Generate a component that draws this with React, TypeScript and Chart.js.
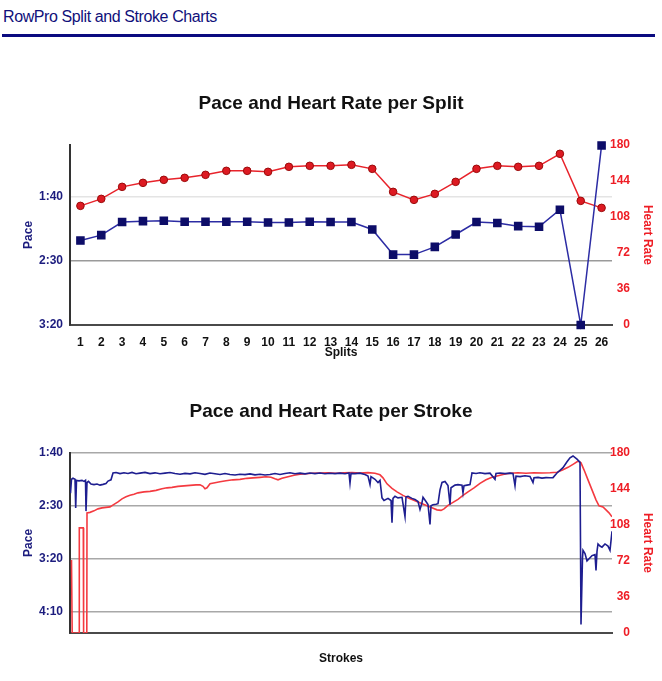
import React, { useEffect, useRef } from 'react';
import { Chart, registerables } from 'chart.js';

Chart.register(...registerables);

// ---------- Data: per split ----------
const splitLabels = ['1','2','3','4','5','6','7','8','9','10','11','12','13','14','15','16','17','18','19','20','21','22','23','24','25','26'];
// pace in seconds per 500m
const splitPace = [134.4, 130.2, 120, 119.3, 119, 119.8, 119.8, 119.8, 119.8, 120.3, 120.3, 119.8, 120, 120, 125.8, 145.3, 145.3, 139.3, 129.7, 120, 120.8, 123.2, 123.7, 110.4, 200, 60.5];
const splitHR = [119, 126, 138, 142, 145, 147, 150, 154, 154, 153, 158, 159, 159, 160, 156, 133, 125, 131, 143, 156, 159, 158, 159, 171, 124, 117];

// ---------- Data: per stroke ----------
const strokeIdxPace = [0.5, 1.5, 3, 5, 5.7, 6.5, 9, 12, 14, 15.5, 16, 17, 18.5, 21, 24, 27, 30, 33, 36, 38, 41, 43, 46, 50, 54, 58, 62, 66, 70, 75, 80, 85, 90, 95, 100, 105, 110, 115, 120, 125, 130, 135, 140, 145, 150, 155, 160, 165, 170, 175, 180, 185, 190, 195, 200, 205, 210, 215, 220, 225, 230, 235, 240, 245, 250, 255, 260, 265, 270, 275, 279, 280, 281, 285, 290, 295, 298, 300, 301, 305, 308, 310, 312, 314, 318, 321, 322, 323, 325, 328, 332, 335, 336, 338, 342, 345, 348, 350, 352, 353, 356, 358, 360, 361, 363, 366, 368, 370, 372, 375, 378, 380, 381, 385, 388, 392, 393, 394, 397, 400, 402, 406, 410, 415, 420, 425, 426, 430, 435, 440, 443, 445, 446, 450, 455, 460, 463, 464, 468, 472, 476, 480, 483, 487, 490, 493, 497, 500, 503, 507, 510, 511, 512.5, 513, 515, 517, 520, 522, 525, 526, 527, 528, 530, 532, 535, 538, 540, 542];
const strokePace = [138, 125, 124, 125, 152, 126, 126.5, 126, 127, 126, 155, 128, 127, 129.5, 130, 129.5, 130.5, 129.8, 129, 126.7, 125.5, 119, 118.6, 119.6, 118.8, 119.5, 118.5, 119.8, 119.2, 118.5, 119.6, 118.9, 119.8, 119.2, 118.6, 119.5, 120.2, 119.4, 119.9, 118.8, 119.6, 120.3, 119.1, 119.8, 120.5, 119.6, 120.4, 121, 120.2, 120.6, 119.9, 120.8, 120.3, 121, 120.5, 119.5, 120.4, 119.6, 118.8, 119.7, 119.2, 119.9, 119, 119.6, 119.1, 119.8, 119.3, 119.6, 119.2, 119.7, 119.1, 128.5, 119.4, 119.6, 119.2, 120.5, 122, 130, 122.5, 125, 128, 126, 142.5, 145, 143, 145, 166, 143, 141, 142.5, 142, 160, 141.5, 141, 143, 144, 146, 153.5, 147, 142, 146, 148.8, 167.6, 150, 149, 148.5, 148, 135, 128, 127, 131, 149, 133, 130.5, 130, 130.5, 137.7, 131, 130.5, 130, 119, 119.5, 118.8, 119.6, 119.2, 125, 119.5, 119, 119.6, 119.2, 119.5, 131, 122, 122.5, 121.6, 122.3, 128, 123.6, 123.2, 123.9, 123.4, 123.6, 123.4, 119, 116.5, 114, 108.5, 104.7, 103, 106, 109, 262, 199, 192, 195, 202, 199, 197, 196, 211, 193, 186, 188, 189, 186, 188, 192, 174];

const strokeIdxHR = [1.5, 2.2, 9, 9.3, 13.3, 13.6, 16.8, 17, 20, 24, 28, 32, 36, 40, 44, 48, 52, 56, 60, 64, 68, 74, 80, 86, 92, 97, 102, 108, 114, 120, 126, 130, 133, 135, 137, 140, 145, 150, 156, 163, 170, 177, 183, 190, 196, 201, 205, 208, 212, 218, 224, 230, 236, 242, 250, 258, 266, 274, 282, 290, 298, 305, 310, 313, 317, 322, 327, 333, 339, 345, 351, 357, 362, 367, 371, 374, 378, 383, 388, 393, 398, 404, 410, 416, 422, 428, 434, 440, 448, 456, 464, 472, 480, 487, 493, 498, 503, 507, 509, 511, 514, 518, 522, 526, 529, 533, 536, 539, 542];
const strokeHR = [73, 0, 0, 105, 105, 0, 0, 120, 120.5, 122, 124, 125, 125.5, 126, 128.5, 131, 134, 136, 137.5, 138.5, 140, 141, 141.5, 142.5, 144, 145, 145.5, 146.5, 147, 147.5, 148, 148, 146.5, 144, 145, 149, 150, 151, 152, 153, 153.5, 154.5, 155, 155.5, 156, 155.5, 154, 153, 154.5, 156, 157.5, 158.5, 159, 159.5, 159.8, 160, 159.6, 160, 160.2, 159.8, 160.2, 159.5, 158, 155, 149, 144.5, 141, 137.5, 134.5, 132, 129.5, 127, 125, 123, 122.5, 124, 127.5, 130.5, 133.5, 137.5, 141, 145, 149.5, 153, 155.5, 157, 158.5, 159.5, 160, 159.6, 160, 159.8, 160, 160.5, 163, 165.5, 168.5, 171, 171.5, 170, 163, 153, 143, 133, 127, 126, 123, 120, 116];

// ---------- Axis ticks ----------
const splitPaceTicks = [100, 150, 200];
const strokePaceTicks = [100, 150, 200, 250];
const hrTicksStep = 36;

const FONT = '"Liberation Sans", Arial, Helvetica, sans-serif';
const NAVY = '#1c1c7e';
const RED = '#ee1d25';
const tickFont = { family: FONT, size: 12, weight: 'bold' as const };

function fmtPace(v: any) {
  const n = Number(v);
  const m = Math.floor(n / 60);
  const s = Math.round(n - m * 60);
  return m + ':' + String(s).padStart(2, '0');
}

function hrAxis(): any {
  return {
    type: 'linear',
    position: 'right',
    min: 0,
    max: 180,
    ticks: { stepSize: hrTicksStep, color: RED, font: tickFont, padding: 18, mirror: true, crossAlign: 'near' },
    grid: { display: false, drawTicks: false },
    border: { display: false },
    title: { display: true, text: 'Heart Rate', color: RED, font: tickFont, padding: { top: 7.5, bottom: 0 } },
    afterFit: (s: any) => { s.width = 50; },
  };
}

function makeSplitConfig(): any {
  return {
    type: 'line',
    data: {
      labels: splitLabels,
      datasets: [
        {
          label: 'Pace',
          data: splitPace,
          yAxisID: 'yPace',
          borderColor: '#2c2ca4',
          backgroundColor: '#0d0d68',
          pointBackgroundColor: '#0d0d68',
          pointBorderColor: '#0d0d68',
          pointStyle: 'rect',
          pointRadius: 5,
          borderWidth: 1.5,
          tension: 0,
          clip: false,
        },
        {
          label: 'Heart Rate',
          data: splitHR,
          yAxisID: 'yHR',
          borderColor: '#e8232b',
          backgroundColor: '#dd1a22',
          pointBackgroundColor: '#dd1a22',
          pointBorderColor: '#9a0a0a',
          pointBorderWidth: 1,
          pointStyle: 'circle',
          pointRadius: 3.8,
          borderWidth: 1.5,
          tension: 0,
          clip: false,
        },
      ],
    },
    options: {
      responsive: false,
      animation: false,
      events: [],
      layout: { padding: 0 },
      plugins: {
        legend: { display: false },
        tooltip: { enabled: false },
        title: {
          display: true,
          text: 'Pace and Heart Rate per Split',
          color: '#111',
          font: { family: FONT, size: 19, weight: 'bold' },
          padding: { top: 12, bottom: 30 },
        },
      },
      scales: {
        x: {
          type: 'category',
          offset: true,
          grid: { display: false, drawTicks: false },
          border: { display: true, color: '#4a4a4a', width: 2 },
          ticks: { color: '#111', font: tickFont, padding: 10, maxRotation: 0, autoSkip: false },
          title: { display: true, text: 'Splits', color: '#111', font: tickFont, padding: { top: 0, bottom: 20 } },
          afterFit: (s: any) => { s.height = 55; },
        },
        yPace: {
          type: 'linear',
          position: 'left',
          reverse: true,
          min: 60,
          max: 200,
          afterBuildTicks: (s: any) => { s.ticks = splitPaceTicks.map((v) => ({ value: v })); },
          ticks: { callback: fmtPace, color: NAVY, font: tickFont, padding: 7 },
          grid: {
            drawTicks: false,
            color: (ctx: any) => {
              const v = ctx.tick && ctx.tick.value;
              if (v === 100) return '#e4e4e4';
              if (v === 150) return '#9a9a9a';
              return 'rgba(0,0,0,0)';
            },
            lineWidth: 1.5,
          },
          border: { display: true, color: '#333', width: 2 },
          title: { display: true, text: 'Pace', color: NAVY, font: tickFont, padding: { top: 21, bottom: 0 } },
          afterFit: (s: any) => { s.width = 70; },
        },
        yHR: hrAxis(),
      },
    },
  };
}

function makeStrokeConfig(): any {
  const paceData = strokeIdxPace.map((x, i) => ({ x, y: strokePace[i] }));
  const hrData = strokeIdxHR.map((x, i) => ({ x, y: strokeHR[i] }));
  return {
    type: 'line',
    data: {
      datasets: [
        {
          label: 'Pace',
          data: paceData,
          yAxisID: 'yPace',
          borderColor: '#1e1e90',
          borderWidth: 1.6,
          pointRadius: 0,
          tension: 0,
        },
        {
          label: 'Heart Rate',
          data: hrData,
          yAxisID: 'yHR',
          borderColor: '#f43a40',
          borderWidth: 1.6,
          pointRadius: 0,
          tension: 0,
        },
      ],
    },
    options: {
      responsive: false,
      animation: false,
      events: [],
      layout: { padding: 0 },
      plugins: {
        legend: { display: false },
        tooltip: { enabled: false },
        title: {
          display: true,
          text: 'Pace and Heart Rate per Stroke',
          color: '#111',
          font: { family: FONT, size: 19, weight: 'bold' },
          padding: { top: 14.5, bottom: 29.5 },
        },
      },
      scales: {
        x: {
          type: 'linear',
          min: 0,
          max: 542,
          grid: { display: false, drawTicks: false },
          border: { display: true, color: '#4a4a4a', width: 2 },
          ticks: { display: false },
          title: { display: true, text: 'Strokes', color: '#111', font: tickFont, padding: { top: 0, bottom: 15 } },
          afterFit: (s: any) => { s.height = 48; },
        },
        yPace: {
          type: 'linear',
          position: 'left',
          reverse: true,
          min: 100,
          max: 270,
          afterBuildTicks: (s: any) => { s.ticks = strokePaceTicks.map((v) => ({ value: v })); },
          ticks: { callback: fmtPace, color: NAVY, font: tickFont, padding: 7 },
          grid: { drawTicks: false, color: '#a8a8a8', lineWidth: 1.5 },
          border: { display: true, color: '#333', width: 2 },
          title: { display: true, text: 'Pace', color: NAVY, font: tickFont, padding: { top: 21, bottom: 0 } },
          afterFit: (s: any) => { s.width = 70; },
        },
        yHR: hrAxis(),
      },
    },
  };
}

function ChartCanvas({ config, top, height }: { config: () => any; top: number; height: number }) {
  const ref = useRef<HTMLCanvasElement | null>(null);
  useEffect(() => {
    if (!ref.current) return;
    const chart = new Chart(ref.current, config());
    return () => chart.destroy();
  }, []);
  return (
    <canvas
      ref={ref}
      width={662}
      height={height}
      style={{ position: 'absolute', left: 0, top, width: 662, height, display: 'block' }}
    />
  );
}

export default function App() {
  return (
    <div
      style={{
        position: 'absolute',
        left: 0,
        top: 0,
        width: 662,
        height: 681,
        background: '#fff',
        overflow: 'hidden',
        fontFamily: FONT,
      }}
    >
      <div
        style={{
          position: 'absolute',
          left: 3,
          top: 8,
          fontSize: 16,
          lineHeight: '18px',
          letterSpacing: '-0.4px',
          color: '#10107a',
          whiteSpace: 'nowrap',
        }}
      >
        RowPro Split and Stroke Charts
      </div>
      <div
        style={{
          position: 'absolute',
          left: 2,
          top: 34,
          width: 653,
          height: 2.5,
          background: '#0b0b80',
        }}
      />
      <ChartCanvas config={makeSplitConfig} top={80} height={300} />
      <ChartCanvas config={makeStrokeConfig} top={386} height={295} />
    </div>
  );
}
